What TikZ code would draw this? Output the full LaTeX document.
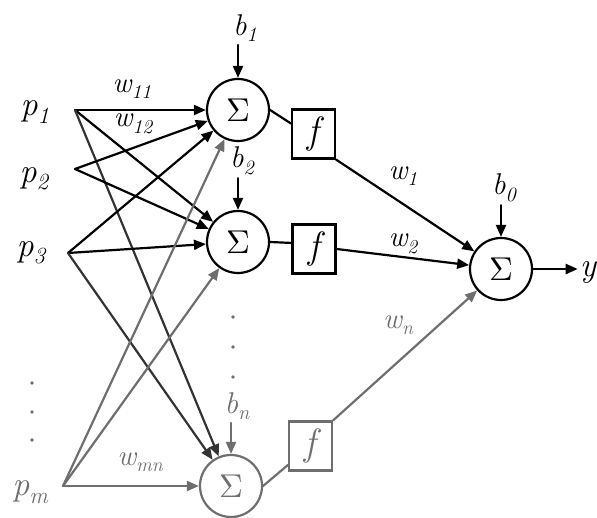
\documentclass[tikz,border=0pt]{standalone}
\usepackage{graphicx}
\usetikzlibrary{arrows.meta}

\definecolor{lowgray}{HTML}{6E6E6E}
\definecolor{midgray}{HTML}{333333}

% italic subscript, lowered and reduced
\newcommand\sbx[1]{\raisebox{-.22em}{\scalebox{.68}{#1}}}
% enlarged summation sign
\newcommand\sumsign{\scalebox{3.3}{$\Sigma$}}

\begin{document}
\begin{tikzpicture}[x=1pt,y=-1pt,
  wire/.style={line width=2.2pt, line cap=round},
  arr/.style={wire, -{Triangle[length=12pt,width=10pt]}},
  sum/.style={circle, draw, line width=2.2pt, minimum size=62pt, inner sep=0pt},
  fbox/.style={draw, line width=2.2pt, minimum width=43pt, minimum height=49pt,
               inner sep=0pt, font=\fontsize{38}{38}\selectfont\itshape},
  inlab/.style={font=\fontsize{34}{34}\selectfont\itshape, inner sep=1pt},
  wlab/.style={font=\fontsize{29}{29}\selectfont\itshape, inner sep=1pt},
  blab/.style={font=\fontsize{30}{30}\selectfont\itshape, inner sep=3pt},
  faint/.style={draw=lowgray, text=lowgray, color=lowgray},
  dot/.style={circle, fill=lowgray, inner sep=0pt, minimum size=3.6pt}
]
\useasboundingbox (0,0) rectangle (597,518);

% summing junctions and transfer functions
\node[sum] (s1) at (238,110) {\sumsign};
\node[sum] (s2) at (238,242) {\sumsign};
\node[sum, faint] (sn) at (231,486) {\sumsign};
\node[sum] (so) at (501,269) {\sumsign};
\node[fbox] (f1) at (313.5,134) {f};
\node[fbox] (f2) at (314,249) {f};
\node[fbox, faint] (fn) at (310.5,446) {f};

% input labels and fan-out points
\node[inlab] (lp1) at (35,112) {p\sbx{1}};
\node[inlab] (lp2) at (34,179) {p\sbx{2}};
\node[inlab] (lp3) at (31,253) {p\sbx{3}};
\node[inlab, text=lowgray] (lpm) at (30,492) {p\sbx{m}};
\coordinate (P1) at (75,110);
\coordinate (P2) at (75,169);
\coordinate (P3) at (68,253);
\coordinate (Pm) at (63,486);

% weight labels
\node[wlab] (w11) at (132,89) {w\sbx{11}};
\node[wlab] (w12) at (133,124) {w\sbx{12}};
\node[wlab, text=lowgray] (wmn) at (140,462) {w\sbx{mn}};
\node[wlab] (w1) at (403,176) {w\sbx{1}};
\node[wlab] (w2) at (403,244) {w\sbx{2}};
\node[wlab, text=lowgray] (wn) at (398,325) {w\sbx{n}};

% bias labels
\node[blab] (b1) at (245,28) {b\sbx{1}};
\node[blab] (b2) at (242,161) {b\sbx{2}};
\node[blab, text=lowgray] (bn) at (237,406) {b\sbx{n}};
\node[blab] (b0) at (504,188) {b\sbx{0}};

% output label
\node[inlab, inner sep=2pt] (yo) at (588,272) {y};

% inputs to the hidden sums
\draw[arr] (P1) -- (s1);
\draw[arr] (P1) -- (s2);
\draw[arr, midgray] (P1) -- (sn);
\draw[arr] (P2) -- (s1);
\draw[arr] (P2) -- (s2);
\draw[arr] (P3) -- (s1);
\draw[arr] (P3) -- (s2);
\draw[arr, midgray] (P3) -- (sn);
\draw[arr, lowgray] (Pm) -- (s1);
\draw[arr, lowgray] (Pm) -- (s2);
\draw[arr, lowgray] (Pm) -- (sn);

% biases
\draw[arr] (s1 |- b1.south) -- (s1);
\draw[arr] (s2 |- b2.south) -- (s2);
\draw[arr, lowgray] (sn |- bn.south) -- (sn);
\draw[arr] (so |- b0.south) -- (so);

% sums to transfer functions
\draw[wire] (s1.east) -- (f1.155);
\draw[wire] (s2.east) -- (f2.165);
\draw[wire, lowgray] (sn.east) -- (fn.220);

% transfer functions to the output sum
\draw[arr] (f1.south east) -- (so);
\draw[arr] (f2.east) -- (so);
\draw[arr, lowgray] (fn.north east) -- (so);
\draw[arr] (so) -- (so -| yo.west);

% ellipsis dots
\node[dot] (d1) at (233,317) {};
\node[dot] (d2) at (233,347) {};
\node[dot] (d3) at (233,377) {};
\node[dot] (e1) at (32,383) {};
\node[dot] (e2) at (32,412) {};
\node[dot] (e3) at (32,440) {};
\end{tikzpicture}
\end{document}
